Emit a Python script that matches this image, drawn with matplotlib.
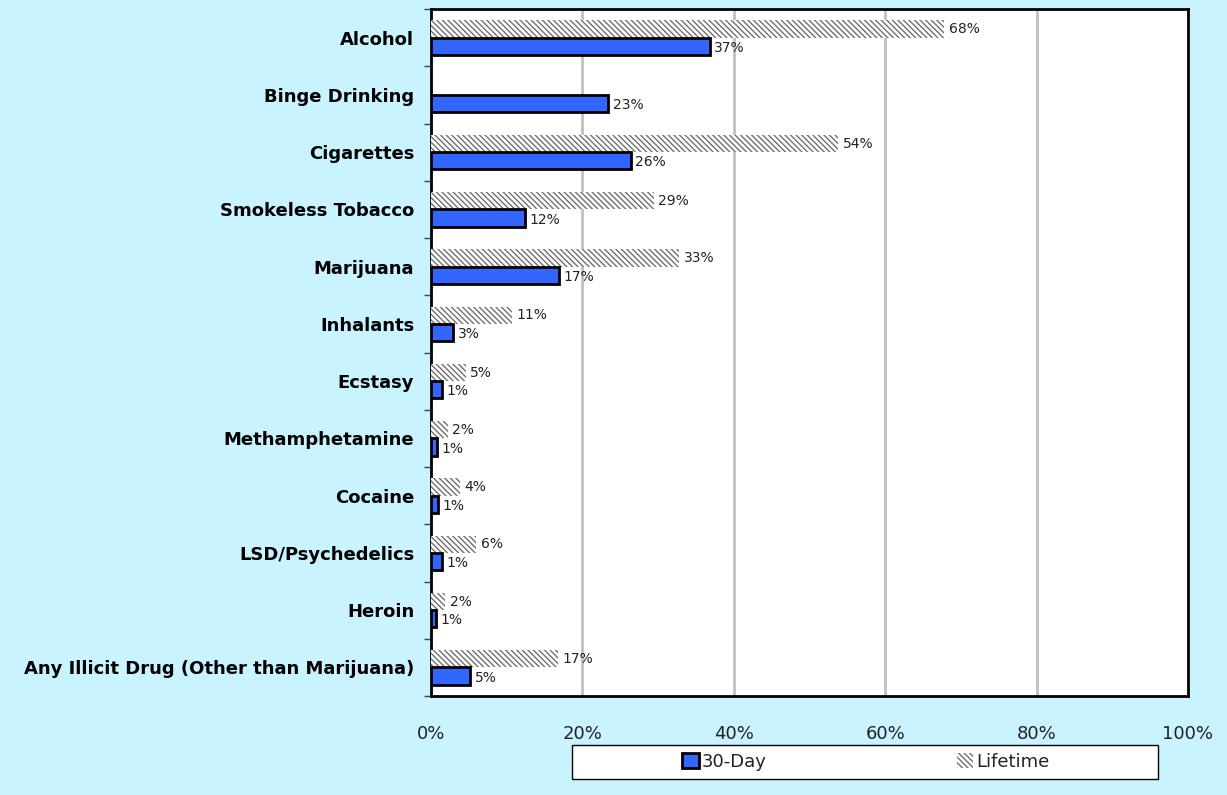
import numpy as np
import matplotlib

matplotlib.use("Agg")
from matplotlib import pyplot as plt
from matplotlib.patches import Rectangle

categories = ["Alcohol", "Binge Drinking", "Cigarettes", "Smokeless Tobacco",
              "Marijuana", "Inhalants", "Ecstasy", "Methamphetamine", "Cocaine",
              "LSD/Psychedelics", "Heroin", "Any Illicit Drug (Other than Marijuana)"]
day30 = [36.8, 23.4, 26.4, 12.4, 16.9, 2.9, 1.4, 0.8, 0.9, 1.4, 0.7, 5.2]
lifetime = [67.8, np.nan, 53.8, 29.4, 32.8, 10.7, 4.6, 2.2, 3.8, 6.0, 1.9, 16.8]
xticks = [0, 20, 40, 60, 80, 100]

bg = "#c9f3ff"
plt.rcParams["hatch.color"] = "#707070"
plt.rcParams["hatch.linewidth"] = 1.0

fig = plt.figure(figsize=(12.27, 7.95), dpi=100, facecolor=bg)
ax = fig.add_axes([431 / 1227, 1 - 696 / 795, 757 / 1227, 687 / 795])
ax.set_facecolor("white")

y = np.arange(len(categories))
h = 0.3
life_vals = np.nan_to_num(lifetime)
ax.barh(y - h / 2, life_vals, height=h, color="white", hatch="\\\\\\\\\\\\",
        edgecolor="#707070", linewidth=0, label="Lifetime", zorder=3)
ax.barh(y + h / 2, day30, height=h, color="#3366ff", edgecolor="black",
        linewidth=2, label="30-Day", zorder=3)

for i in range(len(categories)):
    if not np.isnan(lifetime[i]):
        ax.text(lifetime[i] + 0.6, y[i] - h / 2, f"{lifetime[i]:.0f}%",
                va="center", ha="left", fontsize=10, color="#222222")
    ax.text(day30[i] + 0.6, y[i] + h / 2 + 0.03, f"{day30[i]:.0f}%",
            va="center", ha="left", fontsize=10, color="#222222")

ax.set_xlim(0, 100)
ax.set_ylim(len(categories) - 0.5, -0.5)
ax.set_xticks(xticks)
ax.set_xticklabels([f"{v}%" for v in xticks], fontsize=13, color="#222222")
ax.tick_params(axis="x", length=0, pad=21)
ax.set_yticks(y)
ax.set_yticklabels(categories, fontsize=13, fontweight="bold")
ax.tick_params(axis="y", which="major", length=0, pad=12)
ax.set_yticks(np.arange(len(categories) + 1) - 0.5, minor=True)
ax.tick_params(axis="y", which="minor", length=5, width=1, color="#444444")
ax.grid(axis="x", color="#c0c0c0", linewidth=2, zorder=0)
for s in ax.spines.values():
    s.set_linewidth(2)
    s.set_color("black")

# legend box drawn separately so entries sit centred in each half
fig.patches.append(Rectangle((572 / 1227, 1 - 779 / 795), 586 / 1227, 34 / 795,
                             transform=fig.transFigure, facecolor="white",
                             edgecolor="black", linewidth=1, zorder=1))
handles, labels = ax.get_legend_handles_labels()
leg = fig.legend(handles[::-1], labels[::-1], ncol=2,
                 loc="center", bbox_to_anchor=(866 / 1227, 1 - 762 / 795),
                 fontsize=13, frameon=False, handlelength=0.9, handleheight=0.9,
                 handletextpad=0.2, columnspacing=10.5)
for t in leg.get_texts():
    t.set_color("#222222")

fig.savefig("out.png", dpi=100, facecolor=bg)
